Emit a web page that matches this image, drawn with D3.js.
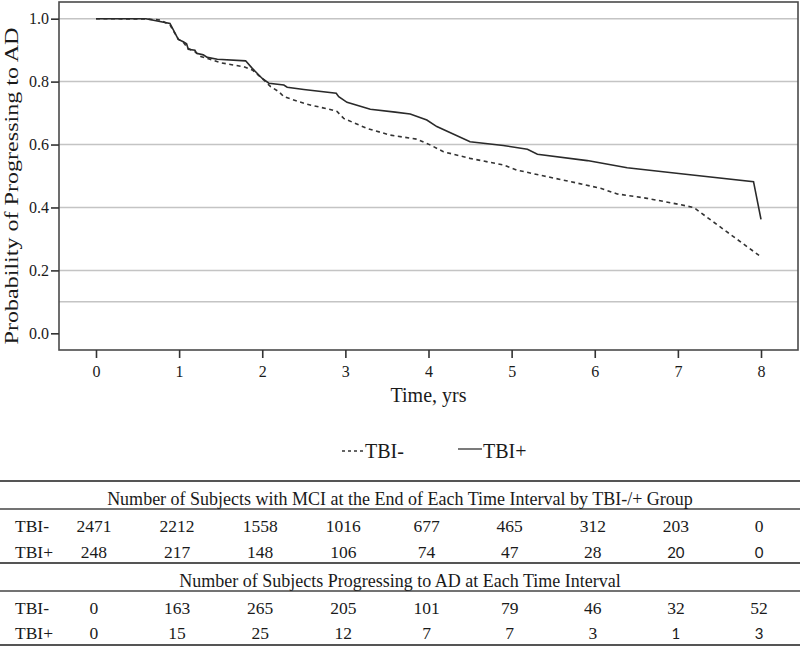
<!DOCTYPE html>
<html>
<head>
<meta charset="utf-8">
<script src="https://cdn.jsdelivr.net/npm/d3@7"></script>
<style>
  html, body { margin: 0; padding: 0; background: #fff; }
  svg { display: block; }
  text { fill: #1a1a1a; }
</style>
</head>
<body>
<svg id="chart" width="800" height="646"></svg>
<script>
// ---- data ----
const timeTicks = [0, 1, 2, 3, 4, 5, 6, 7, 8];
const probTicks = [0.0, 0.2, 0.4, 0.6, 0.8, 1.0];
const gridValues = [0.1, 0.2, 0.4, 0.6, 0.8, 1.0];

const tbiPlusTime = [0, 0.6, 0.89, 0.99, 1.05, 1.09, 1.11, 1.19, 1.21, 1.29, 1.34, 1.46, 1.80, 1.88, 2.0, 2.08, 2.26, 2.30, 2.50, 2.89, 2.92, 3.02, 3.30, 3.60, 3.78, 3.98, 4.10, 4.50, 4.90, 5.19, 5.31, 5.91, 6.39, 7.01, 7.91, 8.0];
const tbiPlusProb = [1.0, 1.0, 0.985, 0.934, 0.927, 0.92, 0.903, 0.900, 0.89, 0.885, 0.877, 0.871, 0.866, 0.842, 0.81, 0.795, 0.789, 0.782, 0.775, 0.763, 0.752, 0.734, 0.712, 0.703, 0.697, 0.678, 0.657, 0.609, 0.597, 0.585, 0.569, 0.549, 0.526, 0.508, 0.482, 0.362];

const tbiMinusTime = [0, 0.6, 0.77, 0.89, 0.99, 1.05, 1.11, 1.19, 1.26, 1.50, 1.78, 1.88, 2.02, 2.10, 2.20, 2.26, 2.54, 2.84, 2.90, 2.98, 3.26, 3.54, 3.86, 4.02, 4.18, 4.50, 4.90, 5.06, 5.39, 5.71, 6.07, 6.27, 6.63, 7.01, 7.19, 8.0];
const tbiMinusProb = [1.0, 0.999, 0.996, 0.98, 0.935, 0.925, 0.905, 0.895, 0.88, 0.86, 0.847, 0.837, 0.805, 0.784, 0.768, 0.752, 0.728, 0.710, 0.705, 0.683, 0.651, 0.630, 0.617, 0.599, 0.577, 0.556, 0.535, 0.519, 0.500, 0.482, 0.461, 0.443, 0.429, 0.410, 0.400, 0.243];

const seriesNames = ["TBI-", "TBI+"];
const rowLabels = ["TBI-", "TBI+"];
const header1 = "Number of Subjects with MCI at the End of Each Time Interval by TBI-/+ Group";
const header2 = "Number of Subjects Progressing to AD at Each Time Interval";
const remainMinus = [2471, 2212, 1558, 1016, 677, 465, 312, 203, 0];
const remainPlus = [248, 217, 148, 106, 74, 47, 28, 20, 0];
const progMinus = [0, 163, 265, 205, 101, 79, 46, 32, 52];
const progPlus = [0, 15, 25, 12, 7, 7, 3, 1, 3];

// ---- layout ----
const SERIF = "'Liberation Serif', 'Times New Roman', serif";
const SANS = "Lato, 'Open Sans', sans-serif";
const svg = d3.select("#chart");
const L = 59, T = 2, R = 798, B = 350;
const x = d3.scaleLinear().domain([-0.445, 8.445]).range([L, R]);
const y = d3.scaleLinear().domain([-0.053, 1.053]).range([B, T]);

// grid
svg.append("g").selectAll("line").data(gridValues).join("line")
  .attr("x1", L).attr("x2", R)
  .attr("y1", d => y(d)).attr("y2", d => y(d))
  .attr("stroke", "#c4c4c4").attr("stroke-width", 1.5);

// frame
svg.append("rect").attr("x", L).attr("y", T).attr("width", R - L).attr("height", B - T)
  .attr("fill", "none").attr("stroke", "#4a4a4a").attr("stroke-width", 1.6);

// axes
const yAxis = svg.append("g").attr("transform", `translate(${L},0)`)
  .call(d3.axisLeft(y).tickValues(probTicks).tickFormat(d3.format(".1f")).tickSize(8).tickPadding(2));
const xAxis = svg.append("g").attr("transform", `translate(0,${B})`)
  .call(d3.axisBottom(x).tickValues(timeTicks).tickFormat(d3.format("d")).tickSize(8).tickPadding(8));
[yAxis, xAxis].forEach(g => {
  g.select(".domain").remove();
  g.selectAll(".tick line").attr("stroke", "#333").attr("stroke-width", 1.6);
  g.selectAll(".tick text").style("font-family", SERIF).style("font-size", "16px").attr("fill", "#1a1a1a");
});

// axis titles
svg.append("text").attr("x", x(4)).attr("y", 402).attr("text-anchor", "middle")
  .style("font-family", SERIF).style("font-size", "20px").text("Time, yrs");
svg.append("text").attr("transform", "translate(18,186) rotate(-90)").attr("text-anchor", "middle")
  .style("font-family", SERIF).style("font-size", "18px")
  .attr("textLength", 317).attr("lengthAdjust", "spacingAndGlyphs")
  .text("Probability of Progressing to AD");

// curves
const line = d3.line().x(d => x(d[0])).y(d => y(d[1]));
const minusPts = tbiMinusTime.map((t, i) => [t, tbiMinusProb[i]]);
const plusPts = tbiPlusTime.map((t, i) => [t, tbiPlusProb[i]]);
svg.append("path").attr("d", line(minusPts)).attr("fill", "none")
  .attr("stroke", "#333").attr("stroke-width", 1.6).attr("stroke-dasharray", "4,3.5");
svg.append("path").attr("d", line(plusPts)).attr("fill", "none")
  .attr("stroke", "#2a2a2a").attr("stroke-width", 1.6);

// legend
svg.append("line").attr("x1", 342).attr("x2", 363).attr("y1", 451).attr("y2", 451)
  .attr("stroke", "#333").attr("stroke-width", 1.3).attr("stroke-dasharray", "3,3");
svg.append("text").attr("x", 365).attr("y", 458)
  .style("font-family", SERIF).style("font-size", "20px").text(seriesNames[0]);
svg.append("line").attr("x1", 458).attr("x2", 482).attr("y1", 449).attr("y2", 449)
  .attr("stroke", "#333").attr("stroke-width", 1.3);
svg.append("text").attr("x", 483).attr("y", 458)
  .style("font-family", SERIF).style("font-size", "20px").text(seriesNames[1]);

// table
const hl = [[481, 2, "#555"], [509, 1.3, "#444"], [563, 2.2, "#555"], [591, 1.3, "#444"], [645, 2, "#555"]];
svg.append("g").selectAll("line").data(hl).join("line")
  .attr("x1", 0).attr("x2", 800).attr("y1", d => d[0]).attr("y2", d => d[0])
  .attr("stroke", d => d[2]).attr("stroke-width", d => d[1]);

svg.append("text").attr("x", 400).attr("y", 505).attr("text-anchor", "middle")
  .style("font-family", SERIF).style("font-size", "18px").text(header1);
svg.append("text").attr("x", 400).attr("y", 587).attr("text-anchor", "middle")
  .style("font-family", SERIF).style("font-size", "18px").text(header2);

const rows = [
  {label: rowLabels[0], vals: remainMinus, yb: 532, key: "rm"},
  {label: rowLabels[1], vals: remainPlus, yb: 558, key: "rp"},
  {label: rowLabels[0], vals: progMinus, yb: 614, key: "pm"},
  {label: rowLabels[1], vals: progPlus, yb: 639, key: "pp"}
];
const useSans = (key, i) => (key === "rp" || key === "pp") && i >= 7;
rows.forEach(r => {
  svg.append("text").attr("x", 15).attr("y", r.yb)
    .style("font-family", SERIF).style("font-size", "17.5px").text(r.label);
  svg.append("g").selectAll("text").data(r.vals).join("text")
    .attr("x", (d, i) => x(timeTicks[i]) - 2)
    .attr("y", r.yb)
    .attr("text-anchor", "middle")
    .style("font-size", (d, i) => useSans(r.key, i) ? "15px" : "17.5px")
    .style("font-family", (d, i) => useSans(r.key, i) ? SANS : SERIF)
    .text(d => d);
});
</script>
</body>
</html>
